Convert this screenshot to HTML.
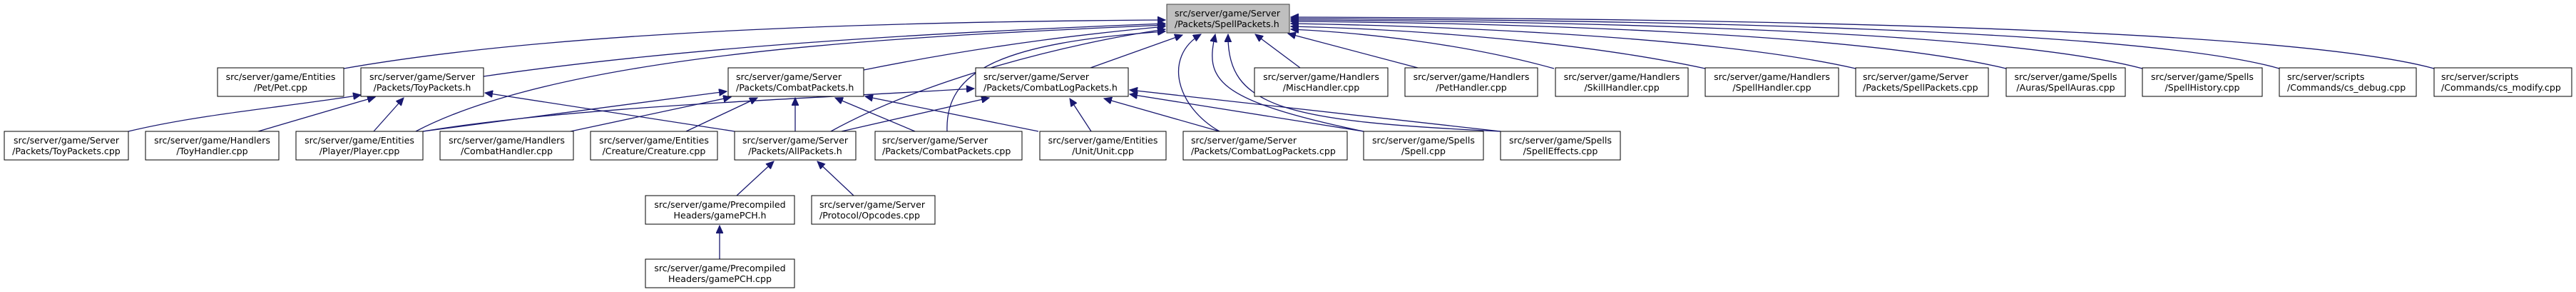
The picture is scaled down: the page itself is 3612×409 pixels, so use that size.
<!DOCTYPE html>
<html><head><meta charset="utf-8"><style>
html,body{margin:0;padding:0;background:#fff;}
svg{display:block;}
text{font-family:"DejaVu Sans","Liberation Sans",sans-serif;font-size:12.6px;fill:#000;}
.e{fill:none;stroke:#191970;stroke-width:1.3;}
.b{fill:#fff;stroke:#000;stroke-width:1;}
</style></head><body>
<svg width="3612" height="409" viewBox="0 0 3612 409" xmlns="http://www.w3.org/2000/svg">
<defs>
<marker id="a" markerUnits="userSpaceOnUse" markerWidth="12" markerHeight="10" refX="11" refY="5" orient="auto">
<path d="M0,0 L11,5 L0,10 Z" fill="#191970" stroke="#191970"/>
</marker>
</defs>
<g marker-end="url(#a)">
<!-- to SpellPackets.h -->
<path class="e" d="M482,96 C800,40 1300,30 1634,28"/>
<path class="e" d="M678,107 C1000,60 1400,42 1634,33"/>
<path class="e" d="M1211,98 C1400,60 1550,45 1634,37"/>
<path class="e" d="M583,184 C800,70 1300,50 1634,35"/>
<path class="e" d="M1165,184 C1300,110 1500,60 1634,41"/>
<path class="e" d="M1328,184 C1325,100 1400,60 1634,44"/>
<path class="e" d="M1529,95 L1658,49"/>
<path class="e" d="M1710,184 C1650,150 1630,80 1684,48"/>
<path class="e" d="M1912,184 C1700,140 1690,110 1704,48"/>
<path class="e" d="M2104,184 C1800,170 1720,150 1722,48"/>
<path class="e" d="M1823,95 L1760,48"/>
<path class="e" d="M1988,95 L1806,47"/>
<path class="e" d="M2179,96 C2050,60 1900,45 1810,41"/>
<path class="e" d="M2391,96 C2200,55 1950,40 1810,37"/>
<path class="e" d="M2602,96 C2400,50 2000,36 1810,33"/>
<path class="e" d="M2813,96 C2600,45 2100,32 1810,30"/>
<path class="e" d="M3004,96 C2800,42 2200,30 1810,28"/>
<path class="e" d="M3196,96 C3000,40 2300,28 1810,26"/>
<path class="e" d="M3413,96 C3200,38 2400,26 1810,24"/>
<!-- to ToyPackets.h -->
<path class="e" d="M180,184 C280,160 400,150 506,133"/>
<path class="e" d="M362,184 L526,136"/>
<path class="e" d="M524,184 L566,137"/>
<path class="e" d="M1030,184 L680,130"/>
<!-- to CombatPackets.h -->
<path class="e" d="M593,184 L1019,128"/>
<path class="e" d="M800,184 L1025,136"/>
<path class="e" d="M962,184 L1062,137"/>
<path class="e" d="M1115,184 L1115,137"/>
<path class="e" d="M1283,184 L1171,137"/>
<path class="e" d="M1456,184 L1213,135"/>
<!-- to CombatLogPackets.h -->
<path class="e" d="M593,184 C800,150 1100,140 1366,124"/>
<path class="e" d="M1180,184 L1387,137"/>
<path class="e" d="M1530,184 L1500,138"/>
<path class="e" d="M1710,184 L1548,138"/>
<path class="e" d="M1912,184 L1584,132"/>
<path class="e" d="M2104,184 L1584,126"/>
<!-- to AllPackets.h -->
<path class="e" d="M1033,274 L1085,226"/>
<path class="e" d="M1197,274 L1146,226"/>
<!-- to gamePCH.h -->
<path class="e" d="M1009,363 L1009,316"/>
</g>
<!-- nodes -->
<rect x="1636" y="6" width="172" height="40" fill="#bfbfbf" stroke="#404040"/>
<text x="1647" y="23">src/server/game/Server</text><text x="1647" y="38">/Packets/SpellPackets.h</text>

<g class="n">
<rect class="b" x="305" y="95" width="177" height="40"/>
<text x="393.5" y="112" text-anchor="middle">src/server/game/Entities</text><text x="393.5" y="127" text-anchor="middle">/Pet/Pet.cpp</text>
<rect class="b" x="506" y="95" width="172" height="40"/>
<text x="592" y="112" text-anchor="middle">src/server/game/Server</text><text x="592" y="127" text-anchor="middle">/Packets/ToyPackets.h</text>
<rect class="b" x="1021" y="95" width="190" height="40"/>
<text x="1032" y="112">src/server/game/Server</text><text x="1032" y="127">/Packets/CombatPackets.h</text>
<rect class="b" x="1368" y="95" width="214" height="40"/>
<text x="1379" y="112">src/server/game/Server</text><text x="1379" y="127">/Packets/CombatLogPackets.h</text>
<rect class="b" x="1759" y="95" width="187" height="40"/>
<text x="1852.5" y="112" text-anchor="middle">src/server/game/Handlers</text><text x="1852.5" y="127" text-anchor="middle">/MiscHandler.cpp</text>
<rect class="b" x="1970" y="95" width="186" height="40"/>
<text x="2063" y="112" text-anchor="middle">src/server/game/Handlers</text><text x="2063" y="127" text-anchor="middle">/PetHandler.cpp</text>
<rect class="b" x="2181" y="95" width="186" height="40"/>
<text x="2274" y="112" text-anchor="middle">src/server/game/Handlers</text><text x="2274" y="127" text-anchor="middle">/SkillHandler.cpp</text>
<rect class="b" x="2391" y="95" width="187" height="40"/>
<text x="2484.5" y="112" text-anchor="middle">src/server/game/Handlers</text><text x="2484.5" y="127" text-anchor="middle">/SpellHandler.cpp</text>
<rect class="b" x="2602" y="95" width="186" height="40"/>
<text x="2612" y="112">src/server/game/Server</text><text x="2612" y="127">/Packets/SpellPackets.cpp</text>
<rect class="b" x="2813" y="95" width="167" height="40"/>
<text x="2896.5" y="112" text-anchor="middle">src/server/game/Spells</text><text x="2896.5" y="127" text-anchor="middle">/Auras/SpellAuras.cpp</text>
<rect class="b" x="3004" y="95" width="168" height="40"/>
<text x="3088" y="112" text-anchor="middle">src/server/game/Spells</text><text x="3088" y="127" text-anchor="middle">/SpellHistory.cpp</text>
<rect class="b" x="3196" y="95" width="192" height="40"/>
<text x="3207" y="112">src/server/scripts</text><text x="3207" y="127">/Commands/cs_debug.cpp</text>
<rect class="b" x="3413" y="95" width="193" height="40"/>
<text x="3423" y="112">src/server/scripts</text><text x="3423" y="127">/Commands/cs_modify.cpp</text>

<rect class="b" x="6" y="184" width="174" height="40"/>
<text x="93" y="201" text-anchor="middle">src/server/game/Server</text><text x="93" y="216" text-anchor="middle">/Packets/ToyPackets.cpp</text>
<rect class="b" x="204" y="184" width="187" height="40"/>
<text x="297.5" y="201" text-anchor="middle">src/server/game/Handlers</text><text x="297.5" y="216" text-anchor="middle">/ToyHandler.cpp</text>
<rect class="b" x="415" y="184" width="178" height="40"/>
<text x="504" y="201" text-anchor="middle">src/server/game/Entities</text><text x="504" y="216" text-anchor="middle">/Player/Player.cpp</text>
<rect class="b" x="617" y="184" width="187" height="40"/>
<text x="710.5" y="201" text-anchor="middle">src/server/game/Handlers</text><text x="710.5" y="216" text-anchor="middle">/CombatHandler.cpp</text>
<rect class="b" x="828" y="184" width="178" height="40"/>
<text x="917" y="201" text-anchor="middle">src/server/game/Entities</text><text x="917" y="216" text-anchor="middle">/Creature/Creature.cpp</text>
<rect class="b" x="1030" y="184" width="170" height="40"/>
<text x="1115" y="201" text-anchor="middle">src/server/game/Server</text><text x="1115" y="216" text-anchor="middle">/Packets/AllPackets.h</text>
<rect class="b" x="1227" y="184" width="206" height="40"/>
<text x="1237" y="201">src/server/game/Server</text><text x="1237" y="216">/Packets/CombatPackets.cpp</text>
<rect class="b" x="1458" y="184" width="177" height="40"/>
<text x="1546.5" y="201" text-anchor="middle">src/server/game/Entities</text><text x="1546.5" y="216" text-anchor="middle">/Unit/Unit.cpp</text>
<rect class="b" x="1659" y="184" width="230" height="40"/>
<text x="1670" y="201">src/server/game/Server</text><text x="1670" y="216">/Packets/CombatLogPackets.cpp</text>
<rect class="b" x="1912" y="184" width="168" height="40"/>
<text x="1996" y="201" text-anchor="middle">src/server/game/Spells</text><text x="1996" y="216" text-anchor="middle">/Spell.cpp</text>
<rect class="b" x="2104" y="184" width="168" height="40"/>
<text x="2188" y="201" text-anchor="middle">src/server/game/Spells</text><text x="2188" y="216" text-anchor="middle">/SpellEffects.cpp</text>

<rect class="b" x="905" y="274" width="209" height="40"/>
<text x="1009.5" y="291" text-anchor="middle">src/server/game/Precompiled</text><text x="1009.5" y="306" text-anchor="middle">Headers/gamePCH.h</text>
<rect class="b" x="1138" y="274" width="173" height="40"/>
<text x="1149" y="291">src/server/game/Server</text><text x="1149" y="306">/Protocol/Opcodes.cpp</text>

<rect class="b" x="905" y="363" width="209" height="40"/>
<text x="1009.5" y="380" text-anchor="middle">src/server/game/Precompiled</text><text x="1009.5" y="395" text-anchor="middle">Headers/gamePCH.cpp</text>
</g>
</svg>
</body></html>
